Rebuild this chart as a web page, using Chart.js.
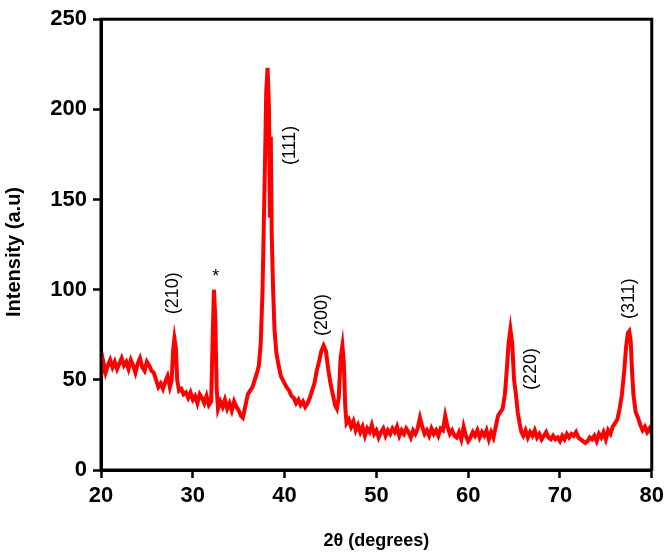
<!DOCTYPE html>
<html>
<head>
<meta charset="utf-8">
<script src="https://cdn.jsdelivr.net/npm/chart.js@4/dist/chart.umd.min.js"></script>
<style>
  html, body { margin: 0; padding: 0; background: #fff; }
  #wrap { width: 669px; height: 554px; }
</style>
</head>
<body>
<div id="wrap"><canvas id="xrdChart"></canvas></div>
<script>
// 2-theta positions (degrees) and intensities
const twoTheta = [
  20.0, 20.25, 20.5, 20.75, 21.0, 21.25, 21.5, 21.75, 22.0, 22.25, 22.5, 22.75, 23.0, 23.25, 23.5, 23.75,
  24.0, 24.25, 24.5, 24.75, 25.0, 25.25, 25.5, 25.75, 26.0, 26.25, 26.5, 26.75, 27.0, 27.25, 27.5, 27.7,
  27.85, 28.0, 28.15, 28.3, 28.5, 28.75, 29.0, 29.25, 29.5, 29.75, 30.0, 30.25, 30.5, 30.75, 31.0, 31.25,
  31.5, 31.75, 32.0, 32.15, 32.3, 32.45, 32.6, 32.75, 33.0, 33.25, 33.5, 33.75, 34.0, 34.25, 34.5, 34.75,
  35.0, 35.25, 35.45, 35.75, 36.0, 36.25, 36.5, 36.75, 37.0, 37.2, 37.4, 37.6, 37.75, 37.9, 38.0, 38.15,
  38.3, 38.4, 38.5, 38.6, 38.75, 38.9, 39.1, 39.35, 39.6, 39.9, 40.2, 40.5, 40.75, 41.0, 41.25, 41.5,
  41.75, 42.0, 42.25, 42.5, 42.75, 43.0, 43.25, 43.5, 43.75, 44.0, 44.25, 44.5, 44.75, 45.0, 45.25, 45.5,
  45.7, 45.9, 46.1, 46.3, 46.45, 46.6, 46.75, 47.0, 47.25, 47.5, 47.75, 48.0, 48.25, 48.5, 48.75, 49.0,
  49.25, 49.5, 49.75, 50.0, 50.25, 50.5, 50.75, 51.0, 51.25, 51.5, 51.75, 52.0, 52.25, 52.5, 52.75, 53.0,
  53.25, 53.5, 53.75, 54.0, 54.25, 54.5, 54.75, 55.0, 55.25, 55.5, 55.75, 56.0, 56.25, 56.5, 56.75, 57.0,
  57.25, 57.5, 57.75, 58.0, 58.25, 58.5, 58.75, 59.0, 59.25, 59.5, 59.75, 60.0, 60.25, 60.5, 60.75, 61.0,
  61.25, 61.5, 61.75, 62.0, 62.25, 62.5, 62.75, 63.0, 63.25, 63.5, 63.75, 64.0, 64.2, 64.4, 64.6, 64.8,
  65.0, 65.2, 65.4, 65.6, 65.8, 66.0, 66.25, 66.5, 66.75, 67.0, 67.25, 67.5, 67.75, 68.0, 68.25, 68.5,
  68.75, 69.0, 69.25, 69.5, 69.75, 70.0, 70.25, 70.5, 70.75, 71.0, 71.25, 71.5, 71.75, 72.0, 72.25, 72.5,
  72.75, 73.0, 73.25, 73.5, 73.75, 74.0, 74.25, 74.5, 74.75, 75.0, 75.25, 75.5, 75.75, 76.0, 76.25, 76.5,
  76.75, 77.0, 77.2, 77.4, 77.55, 77.7, 77.85, 78.0, 78.25, 78.5, 78.75, 79.0, 79.25, 79.5, 79.75, 80.0
];
const intensity = [
  52, 60, 54, 58, 61, 57, 60, 56, 59, 62, 58, 60, 56, 61, 58, 54,
  59, 62, 57, 55, 60, 58, 55, 54, 50, 46, 48, 45, 49, 52, 46, 50,
  66, 73, 68, 50, 44, 45, 42, 43, 40, 43, 39, 41, 37, 42, 40, 37,
  41, 36, 38, 70, 100, 85, 45, 34, 38, 35, 39, 34, 37, 33, 38, 35,
  33, 30, 29, 36, 42, 44, 46, 50, 54, 58, 70, 100, 140, 180, 210, 223,
  200, 140, 185, 130, 100, 78, 65, 58, 52, 49, 46, 44, 41, 40, 37, 39,
  36, 38, 35, 37, 40, 44, 48, 55, 60, 66, 69, 66, 56, 48, 42, 36,
  34, 40, 62, 69, 60, 36, 26, 28, 24, 27, 22, 25, 21, 24, 19, 23,
  21, 25, 20, 22, 18, 21, 23, 19, 22, 20, 23, 21, 24, 19, 22, 20,
  23, 21, 18, 22, 20, 23, 29, 24, 20, 22, 19, 23, 20, 22, 19, 23,
  22, 30, 24, 20, 22, 19, 18, 21, 17, 24, 19, 16, 18, 21, 19, 22,
  18, 21, 19, 22, 17, 21, 18, 24, 30, 32, 34, 42, 55, 70, 78, 70,
  50, 42, 32, 26, 21, 19, 22, 18, 21, 19, 22, 18, 20, 17, 19, 21,
  18, 17, 19, 17, 18, 16, 19, 17, 20, 18, 20, 19, 21, 18, 17, 16,
  15, 16, 18, 17, 19, 16, 20, 18, 21, 17, 22, 20, 24, 26, 28, 34,
  42, 55, 68, 76, 77, 72, 55, 42, 32, 29, 25, 22, 24, 21, 23, 20
];

// Miller indices written next to peaks
const peakLabels = ['(210)', '*', '(111)', '(200)', '(220)', '(311)'];
const peakLabelX = [27.8, 32.5, 40.6, 44.1, 66.9, 77.5];
const peakLabelY = [98, 107, 180, 86, 56, 95];

const xTicks = [20, 30, 40, 50, 60, 70, 80];
const yTicks = [0, 50, 100, 150, 200, 250];

const points = twoTheta.map((t, i) => ({ x: t, y: intensity[i] }));

// frame + hkl labels
const extrasPlugin = {
  id: 'extras',
  afterDatasetsDraw(chart) {
    const ctx = chart.ctx;
    const a = chart.chartArea;
    ctx.save();
    ctx.strokeStyle = '#000';
    ctx.lineWidth = 3;
    ctx.strokeRect(a.left, a.top, a.right - a.left, a.bottom - a.top);

    ctx.fillStyle = '#000';
    ctx.font = '18px "Liberation Sans", Arial, sans-serif';
    ctx.textAlign = 'center';
    ctx.textBaseline = 'middle';
    peakLabels.forEach((txt, i) => {
      const px = chart.scales.x.getPixelForValue(peakLabelX[i]);
      const py = chart.scales.y.getPixelForValue(peakLabelY[i]);
      ctx.save();
      ctx.translate(px, py);
      if (txt !== '*') ctx.rotate(-Math.PI / 2);
      ctx.fillText(txt, 0, 0);
      ctx.restore();
    });

    // y axis title, drawn by hand so it can sit a little lower like the original
    ctx.font = 'bold 20px "Liberation Sans", Arial, sans-serif';
    ctx.translate(14, 252);
    ctx.rotate(-Math.PI / 2);
    ctx.fillText('Intensity (a.u)', 0, 0);
    ctx.restore();
  }
};

const ctx1 = document.getElementById('xrdChart');
new Chart(ctx1, {
  type: 'line',
  data: {
    datasets: [{
      data: points,
      borderColor: 'rgb(255, 0, 0)',
      borderWidth: 4,
      pointRadius: 0,
      tension: 0,
      fill: false
    }]
  },
  options: {
    responsive: true,
    maintainAspectRatio: false,
    animation: false,
    layout: { padding: { top: 13, right: 14, left: 0, bottom: 0 } },
    plugins: {
      legend: { display: false },
      tooltip: { enabled: false }
    },
    scales: {
      x: {
        type: 'linear',
        min: 20,
        max: 80,
        afterBuildTicks: (s) => { s.ticks = xTicks.map(v => ({ value: v })); },
        afterFit: (s) => { s.height = 84; },
        border: { color: '#000', width: 3 },
        grid: { drawOnChartArea: false, drawTicks: true, tickLength: 8, tickColor: '#000', tickWidth: 2.5 },
        ticks: {
          color: '#000',
          padding: 5,
          maxRotation: 0,
          font: { family: '"Liberation Sans", Arial, sans-serif', size: 22, weight: 'bold' }
        },
        title: {
          display: true,
          text: '2θ (degrees)',
          color: '#000',
          padding: { top: 4, bottom: 2 },
          font: { family: '"Liberation Sans", Arial, sans-serif', size: 18, weight: 'bold' }
        }
      },
      y: {
        min: 0,
        max: 250,
        afterBuildTicks: (s) => { s.ticks = yTicks.map(v => ({ value: v })); },
        afterFit: (s) => { s.width = 101; },
        border: { color: '#000', width: 3 },
        grid: { drawOnChartArea: false, drawTicks: true, tickLength: 8, tickColor: '#000', tickWidth: 2.5 },
        ticks: {
          color: '#000',
          padding: 6,
          font: { family: '"Liberation Sans", Arial, sans-serif', size: 22, weight: 'bold' }
        },
        title: { display: false }
      }
    }
  },
  plugins: [extrasPlugin]
});
</script>
</body>
</html>
